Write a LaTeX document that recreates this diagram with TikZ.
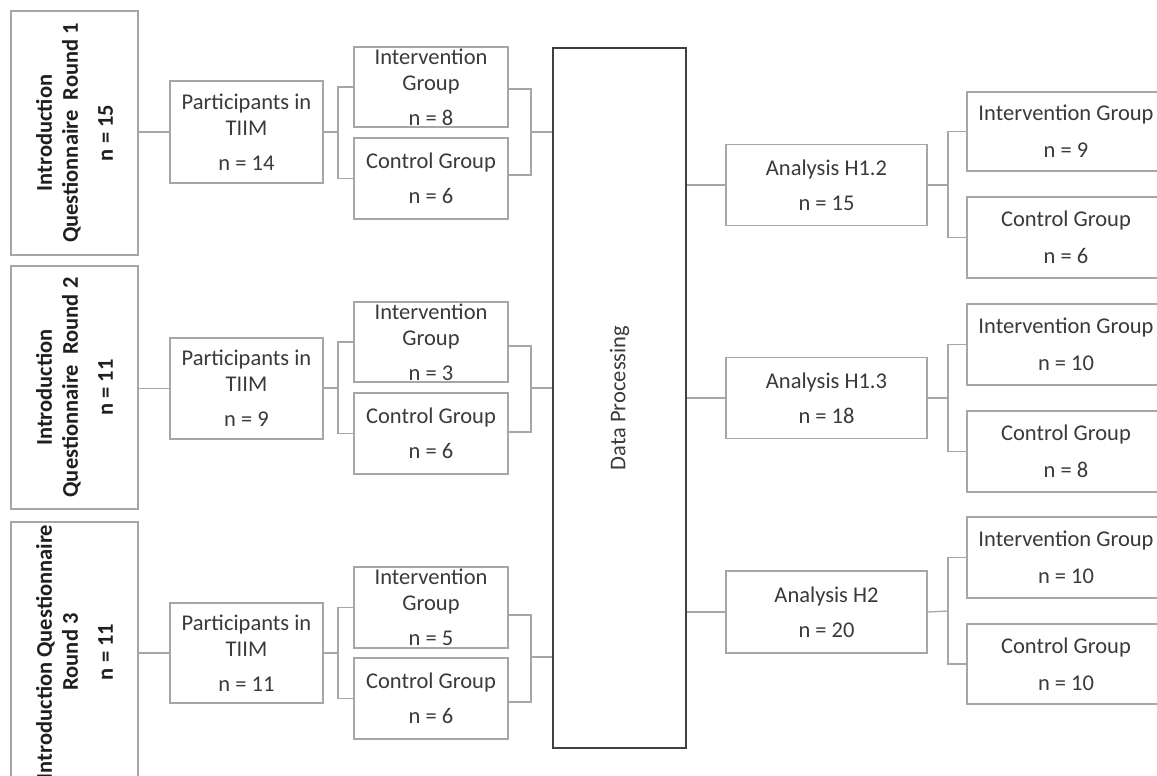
\documentclass[tikz,border=0pt]{standalone}
\usepackage{fontspec}
\setmainfont{Carlito}
\definecolor{boxgray}{HTML}{A6A6A6}
\definecolor{txtcol}{HTML}{3A3A3A}
\definecolor{dpcol}{HTML}{404040}
\begin{document}
\begin{tikzpicture}[x=1pt,y=-1pt,
  box/.style={draw=boxgray, line width=1.3pt, inner sep=0pt, fill=white},
  dpbox/.style={draw=dpcol, line width=1.8pt, inner sep=0pt, fill=white},
  lbl/.style={align=center, text=txtcol, inner sep=0pt, font=\fontsize{22.5}{26}\selectfont},
  ilbl/.style={lbl, rotate=90, text=black!88, font=\fontsize{22.5}{26}\selectfont\bfseries},
  conn/.style={draw=boxgray, line width=1.3pt}]
\useasboundingbox (0,0) rectangle (1157,776);

% Introduction boxes
\node[box, minimum width=127pt, minimum height=244pt] (I1) at (74.5,133) {};
\node[box, minimum width=127pt, minimum height=243pt] (I2) at (74.5,387.5) {};
\node[box, minimum width=127pt, minimum height=260pt] (I3) at (74.5,652) {};
\node[ilbl] (I1t) at (I1) {Introduction\\Questionnaire~ Round 1\\[9pt]n = 15};
\node[ilbl] (I2t) at (I2) {Introduction\\Questionnaire~ Round 2\\[9pt]n = 11};
\node[ilbl] (I3t) at (I3) {Introduction Questionnaire\\Round 3\\[9pt]n = 11};

% Participants boxes
\node[box, minimum width=153pt, minimum height=102pt] (P1) at (246.5,132) {};
\node[box, minimum width=153pt, minimum height=101pt] (P2) at (246.5,388.5) {};
\node[box, minimum width=153pt, minimum height=100pt] (P3) at (246.5,653) {};
\node[lbl] (P1t) at (P1) {Participants in\\TIIM\\[9pt]n = 14};
\node[lbl] (P2t) at (P2) {Participants in\\TIIM\\[9pt]n = 9};
\node[lbl] (P3t) at (P3) {Participants in\\TIIM\\[9pt]n = 11};

% Left group boxes
\node[box, minimum width=154pt, minimum height=80pt] (G1i) at (431,87) {};
\node[box, minimum width=154pt, minimum height=81pt] (G1c) at (431,178.5) {};
\node[box, minimum width=154pt, minimum height=80pt] (G2i) at (431,342) {};
\node[box, minimum width=154pt, minimum height=81pt] (G2c) at (431,433.5) {};
\node[box, minimum width=154pt, minimum height=81pt] (G3i) at (431,607.5) {};
\node[box, minimum width=154pt, minimum height=81pt] (G3c) at (431,698.5) {};
\node[lbl] (G1it) at (G1i) {Intervention\\Group\\[9pt]n = 8};
\node[lbl] (G1ct) at (G1c) {Control Group\\[9pt]n = 6};
\node[lbl] (G2it) at (G2i) {Intervention\\Group\\[9pt]n = 3};
\node[lbl] (G2ct) at (G2c) {Control Group\\[9pt]n = 6};
\node[lbl] (G3it) at (G3i) {Intervention\\Group\\[9pt]n = 5};
\node[lbl] (G3ct) at (G3c) {Control Group\\[9pt]n = 6};

% Data processing
\node[dpbox, minimum width=133pt, minimum height=700pt] (DP) at (619.5,398) {};
\node[lbl, rotate=90] (DPt) at (DP) {Data Processing};

% Analysis boxes
\node[box, minimum width=201pt, minimum height=81pt] (A1) at (826.5,185) {};
\node[box, minimum width=201pt, minimum height=81pt] (A2) at (826.5,398) {};
\node[box, minimum width=201pt, minimum height=82pt] (A3) at (826.5,612) {};
\node[lbl] (A1t) at (A1) {Analysis H1.2\\[9pt]n = 15};
\node[lbl] (A2t) at (A2) {Analysis H1.3\\[9pt]n = 18};
\node[lbl] (A3t) at (A3) {Analysis H2\\[9pt]n = 20};

% Right group boxes
\node[box, minimum width=198pt, minimum height=79pt] (X1i) at (1066,131.5) {};
\node[box, minimum width=198pt, minimum height=81pt] (X1c) at (1066,237.5) {};
\node[box, minimum width=198pt, minimum height=81pt] (X2i) at (1066,344.5) {};
\node[box, minimum width=198pt, minimum height=81pt] (X2c) at (1066,451.5) {};
\node[box, minimum width=198pt, minimum height=81pt] (X3i) at (1066,557.5) {};
\node[box, minimum width=198pt, minimum height=80pt] (X3c) at (1066,664) {};
\node[lbl] (X1it) at (X1i) {Intervention Group\\[11pt]n = 9};
\node[lbl] (X1ct) at (X1c) {Control Group\\[11pt]n = 6};
\node[lbl] (X2it) at (X2i) {Intervention Group\\[11pt]n = 10};
\node[lbl] (X2ct) at (X2c) {Control Group\\[11pt]n = 8};
\node[lbl] (X3it) at (X3i) {Intervention Group\\[11pt]n = 10};
\node[lbl] (X3ct) at (X3c) {Control Group\\[11pt]n = 10};

% joints
\coordinate (LB1) at (338,132);
\coordinate (LB2) at (338,388);
\coordinate (LB3) at (338,653);
\coordinate (RB1) at (531,132);
\coordinate (RB2) at (531,388);
\coordinate (RB3) at (531,657);
\coordinate (S1) at (948,185);
\coordinate (S2) at (948,398);
\coordinate (S3) at (948,611);

% Intro -> Participants
\draw[conn] (I1.east |- P1.west) -- (P1.west);
\draw[conn] (I2.east |- P2.west) -- (P2.west);
\draw[conn] (I3.east |- P3.west) -- (P3.west);

% Participants -> groups
\draw[conn] (P1.east |- LB1) -- (LB1);
\draw[conn] (G1i.west) -| (LB1) |- (G1c.west);
\draw[conn] (P2.east |- LB2) -- (LB2);
\draw[conn] (G2i.west) -| (LB2) |- (G2c.west);
\draw[conn] (P3.east |- LB3) -- (LB3);
\draw[conn] (G3i.west) -| (LB3) |- (G3c.west);

% groups -> Data processing
\draw[conn] ([yshift=-2pt]G1i.east) -| (RB1) |- ([yshift=3.5pt]G1c.east);
\draw[conn] (RB1) -- (RB1 -| DP.west);
\draw[conn] ([yshift=-4pt]G2i.east) -| (RB2) |- ([yshift=1.5pt]G2c.east);
\draw[conn] (RB2) -- (RB2 -| DP.west);
\draw[conn] ([yshift=-7.5pt]G3i.east) -| (RB3) |- ([yshift=-3.5pt]G3c.east);
\draw[conn] (RB3) -- (RB3 -| DP.west);

% Data processing -> analyses
\draw[conn] (A1.west -| DP.east) -- (A1.west);
\draw[conn] (A2.west -| DP.east) -- (A2.west);
\draw[conn] (A3.west -| DP.east) -- (A3.west);

% analyses -> right groups
\draw[conn] (A1.east) -- (S1);
\draw[conn] (X1i.west) -| (S1) |- (X1c.west);
\draw[conn] (A2.east) -- (S2);
\draw[conn] (X2i.west) -| (S2) |- (X2c.west);
\draw[conn] (A3.east) -- (S3);
\draw[conn] (X3i.west) -| (S3) |- (X3c.west);
\end{tikzpicture}
\end{document}
